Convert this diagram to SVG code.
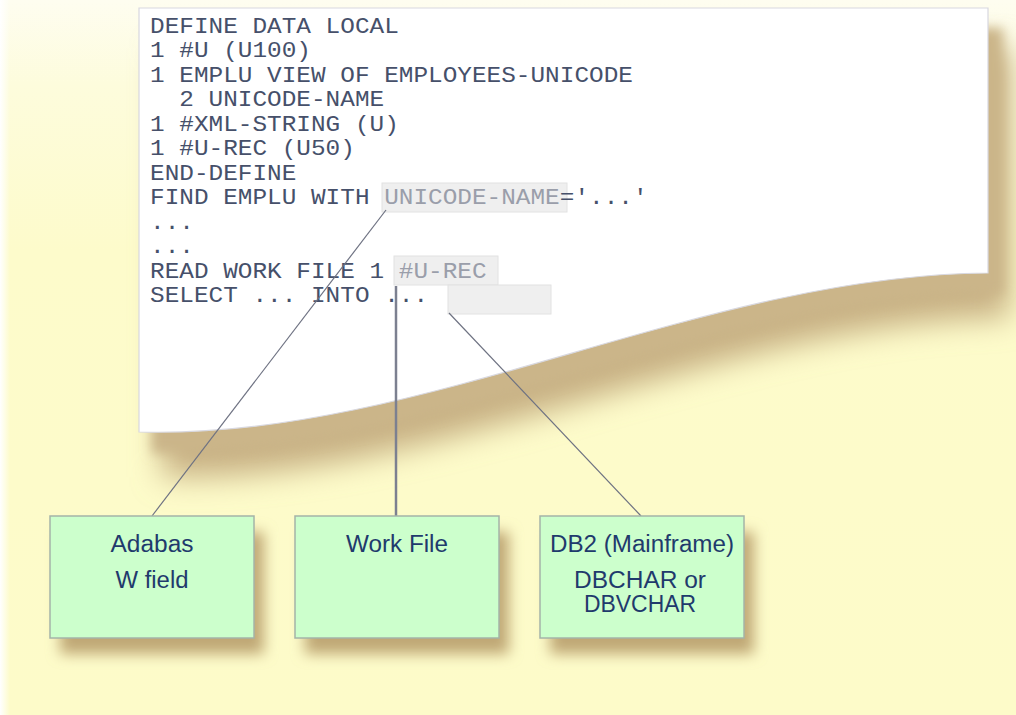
<svg xmlns="http://www.w3.org/2000/svg" width="1016" height="715" viewBox="0 0 1016 715">
  <defs>
    <linearGradient id="bgv" x1="0" y1="0" x2="0" y2="1">
      <stop offset="0" stop-color="#fefdf0"/>
      <stop offset="0.12" stop-color="#fdfcdc"/>
      <stop offset="0.35" stop-color="#fdfbcb"/>
      <stop offset="1" stop-color="#fdfbc9"/>
    </linearGradient>
    <linearGradient id="bgl" x1="0" y1="0" x2="1" y2="0">
      <stop offset="0" stop-color="#ffffff" stop-opacity="1"/>
      <stop offset="1" stop-color="#ffffff" stop-opacity="0"/>
    </linearGradient>
    <filter id="paperShadow" x="-10%" y="-10%" width="130%" height="140%">
      <feGaussianBlur stdDeviation="15"/>
    </filter>
    <filter id="paperShadow2" x="-10%" y="-10%" width="130%" height="140%">
      <feGaussianBlur stdDeviation="6"/>
    </filter>
    <filter id="boxShadow" x="-20%" y="-20%" width="150%" height="160%">
      <feGaussianBlur stdDeviation="7"/>
    </filter>
    <style>
      .code { font-family: "Liberation Mono", "DejaVu Sans Mono", monospace; font-size: 22px; fill: #46506a; }
      .hl { fill: #9a9eaa; }
      .hlbox { fill: #efefef; stroke: #e2e2e2; stroke-width: 1; }
      .conn { stroke: #6e7282; stroke-width: 1.2; fill: none; }
      .connv { stroke: #7c8090; stroke-width: 2.5; fill: none; }
      .node rect.b { fill: #ccffcc; stroke: #a4b4a8; stroke-width: 1.5; }
      .node rect.s { fill: #c0a876; }
      .lbl { font-family: "Liberation Sans", Arial, sans-serif; font-size: 23px; fill: #1f3a6c; text-anchor: middle; }
    </style>
  </defs>

  <!-- background -->
  <rect x="0" y="0" width="1016" height="715" fill="url(#bgv)"/>
  <rect x="0" y="0" width="10" height="715" fill="url(#bgl)"/>

  <!-- paper shadow -->
  <path d="M162,48 L1010,48 L1010,318 C722,320 442,485 162,477 Z" fill="#c8b184" filter="url(#paperShadow)"/>
  <path d="M152,28 L1003,28 L1003,294 C713,296 433,461 152,453 Z" fill="#cbb589" filter="url(#paperShadow2)"/>

  <!-- paper -->
  <g id="paper">
    <path d="M139,8 L988,8 L988,273 C700,275 420,440 139,432 Z" fill="#ffffff" stroke="#d8d8e0" stroke-width="1.2"/>
  </g>

  <!-- highlight boxes -->
  <rect class="hlbox" x="382" y="183" width="185" height="29"/>
  <rect class="hlbox" x="394" y="256" width="104" height="29"/>
  <rect class="hlbox" x="448" y="285" width="103" height="29"/>

  <!-- code text -->
  <g id="code" transform="translate(150,0) scale(1.109,1)">
    <text class="code" x="0" y="33">DEFINE DATA LOCAL</text>
    <text class="code" x="0" y="57.5">1 #U (U100)</text>
    <text class="code" x="0" y="82">1 EMPLU VIEW OF EMPLOYEES-UNICODE</text>
    <text class="code" x="26.4" y="106.5">2 UNICODE-NAME</text>
    <text class="code" x="0" y="131">1 #XML-STRING (U)</text>
    <text class="code" x="0" y="155.5">1 #U-REC (U50)</text>
    <text class="code" x="0" y="180">END-DEFINE</text>
    <text class="code" x="0" y="204.5">FIND EMPLU WITH <tspan class="hl">UNICODE-NAME</tspan>='...'</text>
    <text class="code" x="0" y="229">...</text>
    <text class="code" x="0" y="253.5">...</text>
    <text class="code" x="0" y="278">READ WORK FILE 1 <tspan class="hl">#U-REC</tspan></text>
    <text class="code" x="0" y="302.5">SELECT ... INTO ...</text>
  </g>

  <!-- connectors -->
  <g id="connectors">
    <line class="conn" x1="386" y1="210" x2="152" y2="516"/>
    <line class="connv" x1="396" y1="286" x2="396" y2="516"/>
    <line class="conn" x1="449" y1="313" x2="641" y2="516"/>
  </g>

  <!-- nodes -->
  <g id="node-adabas" class="node">
    <rect class="s" x="60" y="532" width="204" height="122" filter="url(#boxShadow)"/>
    <rect class="b" x="50" y="516" width="204" height="122"/>
    <text class="lbl" x="152" y="552" textLength="83" lengthAdjust="spacingAndGlyphs">Adabas</text>
    <text class="lbl" x="152" y="588" textLength="73" lengthAdjust="spacingAndGlyphs">W field</text>
  </g>
  <g id="node-workfile" class="node">
    <rect class="s" x="305" y="532" width="204" height="122" filter="url(#boxShadow)"/>
    <rect class="b" x="295" y="516" width="204" height="122"/>
    <text class="lbl" x="397" y="552" textLength="102" lengthAdjust="spacingAndGlyphs">Work File</text>
  </g>
  <g id="node-db2" class="node">
    <rect class="s" x="550" y="532" width="204" height="122" filter="url(#boxShadow)"/>
    <rect class="b" x="540" y="516" width="204" height="122"/>
    <text class="lbl" x="642" y="552" textLength="184" lengthAdjust="spacingAndGlyphs">DB2 (Mainframe)</text>
    <text class="lbl" x="640" y="588" textLength="132" lengthAdjust="spacingAndGlyphs">DBCHAR or</text>
    <text class="lbl" x="640" y="612" textLength="112" lengthAdjust="spacingAndGlyphs">DBVCHAR</text>
  </g>
</svg>
